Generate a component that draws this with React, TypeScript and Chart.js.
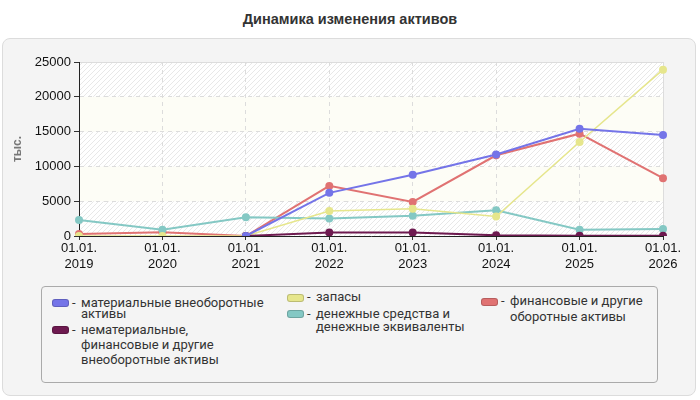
import React, { useEffect, useRef } from "react";
import Chart from "chart.js/auto";

const years = ["2019", "2020", "2021", "2022", "2023", "2024", "2025", "2026"];
const tangible = [null, null, 0, 6200, 8800, 11700, 15400, 14500];
const intangible = [null, null, 0, 500, 500, 100, 50, 30];
const stocks = [0, 0, 0, 3600, 3900, 2800, 13500, 23900];
const cash = [2300, 900, 2700, 2500, 2900, 3700, 900, 1000];
const otherCurrent = [300, 550, 0, 7200, 4900, 11600, 14700, 8300];

const seriesNames = [
  "материальные внеоборотные активы",
  "нематериальные, финансовые и другие внеоборотные активы",
  "запасы",
  "денежные средства и денежные эквиваленты",
  "финансовые и другие оборотные активы",
];
const seriesColors = ["#7474e8", "#6e1a50", "#e6e68c", "#84c8c4", "#e07272"];
const seriesValues = [tangible, intangible, stocks, cash, otherCurrent];

// legend item placement (box left, first-line centre, line height, text width)
const legendPos = [
  { x: 52, cy: 303, lh: 11, w: 190 },
  { x: 52, cy: 330, lh: 15, w: 170 },
  { x: 287, cy: 298, lh: 14, w: 150 },
  { x: 287, cy: 314, lh: 13, w: 150 },
  { x: 481, cy: 302, lh: 16, w: 140 },
];

const FONT = "'Liberation Sans', Arial, sans-serif";

const bandsPlugin = {
  id: "bands",
  beforeDraw(chart: any) {
    const { ctx, chartArea, scales } = chart;
    const y = scales.y;
    const p = document.createElement("canvas");
    p.width = 5;
    p.height = 5;
    const pc = p.getContext("2d")!;
    pc.fillStyle = "#ffffff";
    pc.fillRect(0, 0, 5, 5);
    pc.strokeStyle = "#e8e8e8";
    pc.lineWidth = 1;
    pc.beginPath();
    pc.moveTo(0, 5);
    pc.lineTo(5, 0);
    pc.moveTo(-2.5, 2.5);
    pc.lineTo(2.5, -2.5);
    pc.moveTo(2.5, 7.5);
    pc.lineTo(7.5, 2.5);
    pc.stroke();
    const pattern = ctx.createPattern(p, "repeat");
    ctx.save();
    const ticks = y.ticks.map((t: any) => t.value);
    for (let i = 0; i < ticks.length - 1; i++) {
      const top = y.getPixelForValue(ticks[i + 1]);
      const bottom = y.getPixelForValue(ticks[i]);
      ctx.fillStyle = i % 2 === 0 ? pattern : "#fdfdf6";
      ctx.fillRect(chartArea.left, top, chartArea.right - chartArea.left, bottom - top);
    }
    ctx.strokeStyle = "#dddddd";
    ctx.lineWidth = 1;
    ctx.beginPath();
    ctx.moveTo(chartArea.left, chartArea.top + 0.5);
    ctx.lineTo(chartArea.right + 0.5, chartArea.top + 0.5);
    ctx.lineTo(chartArea.right + 0.5, chartArea.bottom);
    ctx.stroke();
    ctx.restore();
  },
};

const LineChart = () => {
  const ref = useRef<HTMLCanvasElement>(null);

  useEffect(() => {
    if (!ref.current) return;
    const chart = new Chart(ref.current, {
      type: "line",
      data: {
        labels: years.map((y) => ["01.01.", y]),
        datasets: seriesNames.map((name, i) => ({
          label: name,
          data: seriesValues[i],
          borderColor: seriesColors[i],
          backgroundColor: seriesColors[i],
          borderWidth: i === 2 ? 1.5 : 2,
          pointRadius: 4,
          pointHoverRadius: 4,
          pointBorderWidth: 0,
          tension: 0,
          fill: false,
        })),
      },
      options: {
        animation: false,
        responsive: false,
        layout: { padding: { left: 10, right: 37, top: 62, bottom: 10 } },
        plugins: {
          legend: { display: false },
          tooltip: { enabled: false },
        },
        scales: {
          x: {
            offset: false,
            afterFit: (s: any) => {
              s.height = 44;
            },
            ticks: {
              color: "#111",
              font: { family: FONT, size: 13 },
              maxRotation: 0,
              padding: 1,
            },
            grid: {
              color: (c: any) => (c.index === 0 ? "rgba(0,0,0,0)" : "#dcdcdc"),
              tickColor: "#333",
              tickLength: 4,
            },
            border: { color: "#222", dash: [4, 4] },
          },
          y: {
            min: 0,
            max: 25000,
            afterFit: (s: any) => {
              s.width = 69;
            },
            ticks: {
              stepSize: 5000,
              color: "#111",
              font: { family: FONT, size: 13 },
              padding: 3,
              callback: (v: any) => String(v),
            },
            title: {
              display: true,
              text: "тыс.",
              color: "#777",
              font: { family: FONT, size: 12, weight: "bold" },
              padding: { top: 0, bottom: 0 },
            },
            grid: {
              color: (c: any) => (c.index === 0 ? "rgba(0,0,0,0)" : "#dcdcdc"),
              tickColor: "#333",
              tickLength: 5,
            },
            border: { color: "#222", dash: [4, 4] },
          },
        },
      },
      plugins: [bandsPlugin],
    });
    return () => chart.destroy();
  }, []);

  return (
    <canvas
      ref={ref}
      width={700}
      height={290}
      style={{ position: "absolute", left: 0, top: 0, width: 700, height: 290 }}
    />
  );
};

const legendFont = "13px Roboto, 'Noto Sans', sans-serif";

const App = () => {
  useEffect(() => {
    document.body.style.margin = "0";
  }, []);

  return (
    <div style={{ position: "relative", width: 700, height: 400, background: "#fff", overflow: "hidden" }}>
      <div
        style={{
          position: "absolute",
          left: 0,
          top: 11,
          width: 700,
          textAlign: "center",
          font: `bold 14.5px ${FONT}`,
          color: "#333",
        }}
      >
        Динамика изменения активов
      </div>
      <div
        style={{
          position: "absolute",
          left: 2,
          top: 38,
          width: 694,
          height: 358,
          boxSizing: "border-box",
          border: "1px solid #dcdcdc",
          borderRadius: 8,
          background: "#f4f4f4",
        }}
      />
      <LineChart />
      <div
        style={{
          position: "absolute",
          left: 41,
          top: 286,
          width: 617,
          height: 97,
          boxSizing: "border-box",
          border: "1px solid #aaa",
          borderRadius: 4,
          background: "#f4f4f4",
        }}
      />
      {seriesNames.map((name, i) => {
        const p = legendPos[i];
        return (
          <React.Fragment key={i}>
            <span
              style={{
                position: "absolute",
                left: p.x,
                top: p.cy - 4,
                width: 17,
                height: 8,
                boxSizing: "border-box",
                borderRadius: 3,
                background: seriesColors[i],
                border: "1px solid rgba(0,0,0,0.18)",
              }}
            />
            <span
              style={{
                position: "absolute",
                left: p.x + 20,
                top: p.cy - p.lh / 2 - 1,
                font: legendFont,
                lineHeight: `${p.lh}px`,
                color: "#333",
              }}
            >
              -
            </span>
            <span
              style={{
                position: "absolute",
                left: p.x + 29,
                top: p.cy - p.lh / 2 - 1,
                width: p.w,
                font: legendFont,
                lineHeight: `${p.lh}px`,
                color: "#333",
              }}
            >
              {name}
            </span>
          </React.Fragment>
        );
      })}
    </div>
  );
};

export default App;
